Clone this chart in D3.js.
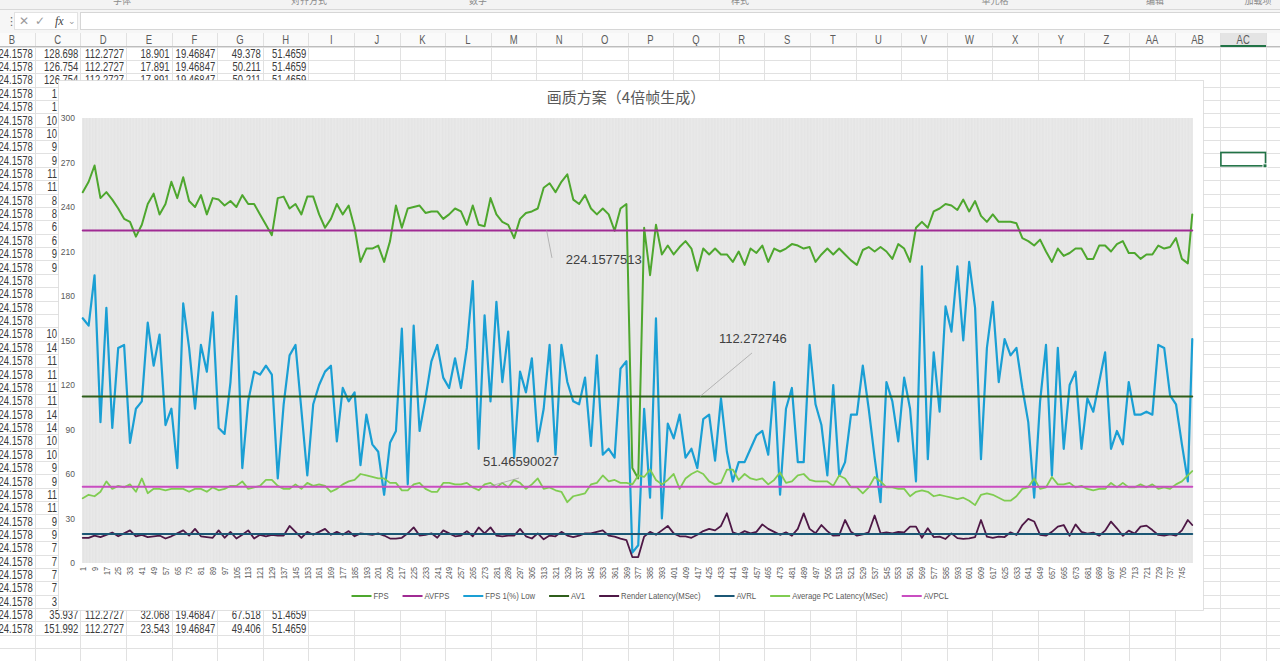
<!DOCTYPE html>
<html>
<head>
<meta charset="utf-8">
<style>
	body { margin: 0; background: #fff; overflow: hidden; }
	svg { display: block; }
	.cell, .colhead { font-family: "Liberation Sans", Arial, sans-serif; font-size: 12.5px; }
	.cell { fill: #3b3b3b; }
	.colhead { fill: #5c5c5c; text-anchor: middle; }
	.axis text, .legend text { font-family: "Liberation Sans", Arial, sans-serif; fill: #595959; }
	.axis text { font-size: 8.5px; }
	.legend text { font-size: 9px; }
	.data-label { font-family: "Liberation Sans", Arial, sans-serif; font-size: 13px; fill: #404040; }
</style>
</head>
<body>
<svg id="sheet" width="1280" height="661"></svg>

<script src="https://d3js.org/d3.v7.min.js"></script>
<script>
	// ---------- chart data (one reading every 4 frames) ----------
	const chartTitle = "画质方案（4倍帧生成）";
	const frameCount = 752;
	const sampleStep = 4;
	const frameTicks = d3.range(1, frameCount, 8);
	const yTicks = [0, 30, 60, 90, 120, 150, 180, 210, 240, 270, 300];
	const seriesNames = ["FPS", "AVFPS", "FPS 1(%) Low", "AV1", "Render Latency(MSec)", "AVRL", "Average PC Latency(MSec)", "AVPCL"];

	const fps = [250,257,268,246,250,245,239,232,230,220,
		228,242,249,235,242,257,246,260,244,240,
		248,235,246,245,241,244,240,248,242,242,
		235,228,221,246,247,239,242,235,247,247,
		235,226,232,242,235,241,226,203,
		212,212,214,203,217,241,226,239,240,241,
		236,237,237,232,235,239,237,228,241,228,
		227,246,235,230,228,219,232,236,237,239,
		253,256,250,257,262,245,242,248,239,235,
		239,235,224,239,242,64,57,
		226,194,228,208,214,208,213,217,212,197,
		212,208,212,208,208,203,210,201,212,209,
		214,203,212,210,212,215,214,212,213,203,
		208,212,208,212,208,204,201,211,213,210,
		213,210,205,215,212,203,226,
		230,226,237,239,242,241,238,245,237,244,
		234,230,235,230,230,230,229,219,217,214,
		218,210,203,212,207,209,212,212,205,205,
		214,214,210,215,217,209,209,205,208,208,
		214,212,213,219,205,202,
		235];

	const fpsLow = [165,160,194,95,172,91,145,147,81,104,
		109,162,133,154,93,104,64,175,145,104,
		147,129,169,91,87,122,180,64,109,129,
		127,133,127,57,107,140,147,103,59,107,
		120,129,133,82,118,109,115,66,
		100,80,75,46,81,89,158,53,160,89,
		111,136,147,125,118,138,118,145,190,77,
		167,109,176,122,156,71,129,115,138,82,
		104,147,73,147,122,109,107,125,79,140,
		73,77,71,131,136,7,12,
		104,44,165,30,94,84,100,71,77,64,
		97,100,69,111,75,55,68,68,77,86,
		89,73,122,46,104,118,68,68,147,107,
		93,59,120,59,68,100,100,133,104,71,
		41,122,109,82,125,104,55,
		200,70,142,102,173,156,200,150,203,172,
		70,145,176,122,151,140,145,118,95,44,
		109,147,59,145,77,120,129,77,111,102,
		122,142,77,89,80,122,100,100,102,100,
		147,145,113,107,80,55,
		151];

	const renderLatency = [17,17,18.5,17.5,19,20.5,18,20,22,18,
		19,17.5,18,18.5,16.5,18,20,22,18.5,23,
		18,17.5,17,22,17,21,16.5,19,22,16.5,
		19,18,19,18.5,18.5,25,21,17,21,19,
		21,23,19,21,19,21.5,18,20,
		19.5,19,20,18.5,16.5,16.5,17,20,24,18.5,
		19,20,17,22,20,18,18.5,21.5,18,24,
		20,24,18.5,18,18.5,18.5,23,18,16.5,20,
		16,18.5,18,21,18.5,17.5,18.5,20,20,21,
		22,18.5,17.8,16.5,15.5,4,4,
		17.8,21,19,22,25,20,18,18,17,19,
		21.5,23,22,25,33.5,20.7,19.3,21.5,20,21,
		26,23,21,19,20.7,18.4,23,33.5,23,20,
		25.6,21.5,18.4,18.6,29,21,18.4,19.3,20.7,32,
		20,20.7,20,21,20.7,24.5,24.5,
		17,23.4,17.5,17.8,16.2,20,16.8,16.2,16.6,17.5,
		29,17.8,17,17.8,17.5,20.7,18.9,25.6,29.7,28,
		18.9,18.4,21,24.5,25.6,18.4,26,21,19.8,20.5,
		18.4,21.8,27.9,23.4,18.4,21.8,19.8,24.5,25.2,22.2,
		18.9,18.4,19.3,18.4,22,29,
		25.6];

	const pcLatency = [43.6,46,45,48,55,50,52,51,53,48,
		57,47,50,50,49,50,50,50,48,50,
		50,48,51,49,50,52,52,55,50,51,
		52,56,56,52,50,50,53,50,54,52,
		53,52,48,50,53,55,56,60,
		59,58,57,57,54,54,49,49,53,54,
		50,48,48,54,54,53,53,54,51,49,
		53,54,51,54,51,56,54,50,53,57,
		50,51,49,48,41,45,46,47,53,54,
		59,55,56,54,54,53,59,
		58,63,56,53,56,60,50,57,60,62,
		60,55,53,54,63,63,56,60,57,56,
		57,53,56,61,54,55,59,60,56,55,
		55,55,52,59,57,51,51,47,51,58,
		55,51,51,50,50,45,48,
		49,48,45,46,45,44,43,44,42,39,
		46,47,46,44,42,42,45,50,51,57,
		50,51,58,53,53,54,51,52,50,49,
		50,50,54,51,54,51,51,53,51,53,
		50,51,50,53,55,59,
		62];

	const avFps = 224.1577513;
	const av1 = 112.272746;
	const avrl = 19.46847;
	const avpcl = 51.46590027;

	// ---------- sheet data visible around the chart ----------
	const columnLetters = ["B","C","D","E","F","G","H","I","J","K","L","M","N","O","P","Q","R","S","T","U","V","W","X","Y","Z","AA","AB","AC"];
	const colBValue = "24.1578";
	const colBRowCount = 44;
	const fullRows = [
		{ row: 0, cells: ["24.1578","128.698","112.2727","18.901","19.46847","49.378","51.4659"] },
		{ row: 1, cells: ["24.1578","126.754","112.2727","17.891","19.46847","50.211","51.4659"] },
		{ row: 2, cells: ["24.1578","126.754","112.2727","17.891","19.46847","50.211","51.4659"] },
		{ row: 42, cells: ["24.1578","35.937","112.2727","32.068","19.46847","67.518","51.4659"] },
		{ row: 43, cells: ["24.1578","151.992","112.2727","23.543","19.46847","49.406","51.4659"] }
	];
	// column C cells that peek out left of the chart (rows 3..41)
	const colCPeek = ["1","1","10","10","9","9","11","11","8","8","6","6","9","9","","","","",
		"10","14","11","11","11","11","14","14","10","10","9","9","11","11","9","9","7","7","7","7","3"];
	const ribbonGroups = ["字体", "对齐方式", "数字", "样式", "单元格", "编辑", "加载项"];

	// ---------- layout ----------
	const W = 1280, H = 661;
	const colW = 45.6, colCenter0 = 12;
	const rowTop = 46.5, rowH = 13.37;
	const box = { left: 58, top: 80, right: 1203, bottom: 610 };
	const plot = { left: 82, top: 118, right: 1193, bottom: 563 };
	const narrow = 0.76;   // the sheet font is a condensed face

	const svg = d3.select("#sheet");

	// ---------- spreadsheet background ----------
	svg.append("rect").attr("width", W).attr("height", H).attr("fill", "#ffffff");

	// ribbon remnant, mostly cut off at the top
	svg.append("rect").attr("width", W).attr("height", 9).attr("fill", "#f3f3f3");
	svg.append("clipPath").attr("id", "ribbon-clip")
		.append("rect").attr("width", W).attr("height", 8);
	const ribbonX = [122, 309, 478, 740, 995, 1155, 1258];
	svg.append("g").attr("clip-path", "url(#ribbon-clip)")
		.selectAll("text").data(ribbonGroups).join("text")
		.attr("x", (d, i) => ribbonX[i]).attr("y", 4)
		.attr("text-anchor", "middle")
		.style("font", "9px 'Noto Sans CJK SC'").attr("fill", "#8a8a8a")
		.text(d => d);
	svg.append("line").attr("x1", 0).attr("x2", W).attr("y1", 9.5).attr("y2", 9.5).attr("stroke", "#d8d8d8");

	// formula bar
	svg.append("rect").attr("y", 10).attr("width", W).attr("height", 23).attr("fill", "#f6f6f6");
	svg.append("rect").attr("x", 80.5).attr("y", 12.5).attr("width", 1200).attr("height", 17)
		.attr("fill", "#fff").attr("stroke", "#d6d6d6");
	svg.append("rect").attr("x", 14.5).attr("y", 12.5).attr("width", 63).attr("height", 17)
		.attr("fill", "#fff").attr("stroke", "#e2e2e2");
	const fbar = svg.append("g").style("font-family", "'DejaVu Sans', sans-serif").attr("fill", "#9a9a9a");
	fbar.append("text").attr("x", 6).attr("y", 25).style("font-size", "11px").attr("fill", "#666").text("⋮");
	fbar.append("text").attr("x", 19).attr("y", 25).style("font-size", "12px").text("✕");
	fbar.append("text").attr("x", 35).attr("y", 25).style("font-size", "12px").text("✓");
	fbar.append("text").attr("x", 55).attr("y", 25).style("font", "italic 12px 'Liberation Serif', serif").attr("fill", "#444").text("fx");
	fbar.append("text").attr("x", 68).attr("y", 24).style("font-size", "9px").text("⌄");

	// column header row
	svg.append("rect").attr("y", 33).attr("width", W).attr("height", 13.5).attr("fill", "#fafafa");
	const acIndex = columnLetters.length - 1;
	svg.append("rect")
		.attr("x", colCenter0 + acIndex * colW - colW / 2).attr("y", 33)
		.attr("width", colW).attr("height", 13.5).attr("fill", "#e4e4e4");
	svg.selectAll(".colhead").data(columnLetters).join("text")
		.attr("class", "colhead")
		.attr("transform", (d, i) => `translate(${colCenter0 + i * colW},44) scale(${narrow},1)`)
		.attr("fill", (d, i) => i === acIndex ? "#217346" : null)
		.text(d => d);

	// grid lines
	const colEdges = d3.range(0, columnLetters.length + 1).map(i => colCenter0 - colW / 2 + i * colW);
	svg.append("g").selectAll("line").data(colEdges).join("line")
		.attr("x1", d => Math.round(d) + 0.5).attr("x2", d => Math.round(d) + 0.5)
		.attr("y1", 33).attr("y2", H).attr("stroke", "#e1e1e1");
	const rowEdges = d3.range(0, 48).map(i => rowTop + i * rowH);
	svg.append("g").selectAll("line").data(rowEdges).join("line")
		.attr("x1", 0).attr("x2", W)
		.attr("y1", d => Math.round(d) + 0.5).attr("y2", d => Math.round(d) + 0.5)
		.attr("stroke", "#e1e1e1");
	svg.append("line").attr("x1", 0).attr("x2", W).attr("y1", 46.5).attr("y2", 46.5).attr("stroke", "#bdbdbd");
	svg.append("line")
		.attr("x1", colCenter0 + acIndex * colW - colW / 2).attr("x2", colCenter0 + acIndex * colW + colW / 2)
		.attr("y1", 46).attr("y2", 46).attr("stroke", "#217346").attr("stroke-width", 2);

	// cell text, right aligned and squeezed like the sheet's condensed font
	const rowMid = r => rowTop + r * rowH + rowH / 2 + 4.5;
	const cellRight = c => colCenter0 + c * colW + colW / 2 - 2;
	const cellText = (sel, xFn, yFn) => sel
		.attr("class", "cell").attr("text-anchor", "end")
		.attr("transform", (d, i) => `translate(${xFn(d, i)},${yFn(d, i)}) scale(${narrow},1)`)
		.text(d => d);
	const cells = svg.append("g");
	cells.selectAll(null).data(d3.range(0, colBRowCount).map(() => colBValue)).join("text")
		.call(cellText, () => cellRight(0), (d, i) => rowMid(i));
	fullRows.forEach(r => {
		cells.selectAll(null).data(r.cells.slice(1)).join("text")
			.call(cellText, (d, i) => cellRight(i + 1), () => rowMid(r.row));
	});
	cells.selectAll(null).data(colCPeek).join("text")
		.call(cellText, () => box.left - 1, (d, i) => rowMid(i + 3));

	// selected cell AC9
	const selX = colCenter0 + acIndex * colW - colW / 2;
	svg.append("rect").attr("x", selX + 0.5).attr("y", rowTop + 8 * rowH - 1)
		.attr("width", colW - 1).attr("height", rowH)
		.attr("fill", "none").attr("stroke", "#217346").attr("stroke-width", 1.6);
	svg.append("rect").attr("x", selX + colW - 3).attr("y", rowTop + 9 * rowH - 3)
		.attr("width", 4).attr("height", 4).attr("fill", "#217346").attr("stroke", "#fff");

	// ---------- chart ----------
	const chart = svg.append("g");
	chart.append("rect")
		.attr("x", box.left + 0.5).attr("y", box.top + 0.5)
		.attr("width", box.right - box.left).attr("height", box.bottom - box.top)
		.attr("fill", "#fff").attr("stroke", "#d9d9d9").attr("stroke-width", 0.8);

	chart.append("text")
		.attr("x", 626).attr("y", 103)
		.attr("text-anchor", "middle")
		.style("font", "15px 'Noto Sans CJK SC', sans-serif")
		.attr("fill", "#595959")
		.text(chartTitle);

	const x = d3.scaleLinear().domain([0.5, frameCount + 0.5]).range([plot.left, plot.right]);
	const y = d3.scaleLinear().domain([0, 300]).range([plot.bottom, plot.top]);

	// plot area: grey fill with one faint stripe per category
	chart.append("rect")
		.attr("x", plot.left).attr("y", plot.top)
		.attr("width", plot.right - plot.left).attr("height", plot.bottom - plot.top)
		.attr("fill", "#e3e3e3");
	chart.append("g").selectAll("line").data(d3.range(1, frameCount + 1)).join("line")
		.attr("x1", d => x(d)).attr("x2", d => x(d))
		.attr("y1", plot.top).attr("y2", plot.bottom)
		.attr("stroke", "#eeeeee").attr("stroke-width", 0.55);

	// axes
	chart.append("g")
		.attr("class", "axis")
		.attr("transform", `translate(${plot.left - 7},0)`)
		.call(d3.axisLeft(y).tickValues(yTicks).tickSize(0).tickPadding(0))
		.call(g => g.select(".domain").remove());

	chart.append("g")
		.attr("class", "axis")
		.attr("transform", `translate(0,${plot.bottom + 4})`)
		.call(d3.axisBottom(x).tickValues(frameTicks).tickSize(0).tickFormat(d3.format("d")))
		.call(g => g.select(".domain").remove())
		.selectAll("text")
		.attr("transform", "rotate(-90) scale(0.85,1)")
		.attr("text-anchor", "end")
		.attr("x", 0).attr("y", 0)
		.attr("dx", 0).attr("dy", "0.32em");

	// series
	const frameOf = (i, n) => i === n - 1 ? frameCount : 1 + i * sampleStep;
	const toPoints = arr => arr.map((v, i) => [frameOf(i, arr.length), v]);
	const line = d3.line().x(d => x(d[0])).y(d => y(d[1]));
	const flat = v => [[1, v], [frameCount, v]];

	const colors = {
		"FPS": "#4ea72e",
		"AVFPS": "#a02b93",
		"FPS 1(%) Low": "#1a9fd4",
		"AV1": "#2f5e1b",
		"Render Latency(MSec)": "#4e1846",
		"AVRL": "#1b5775",
		"Average PC Latency(MSec)": "#80cc52",
		"AVPCL": "#c94dc1"
	};
	const widths = {
		"FPS": 2, "AVFPS": 2, "FPS 1(%) Low": 2.2, "AV1": 2,
		"Render Latency(MSec)": 1.8, "AVRL": 2, "Average PC Latency(MSec)": 1.8, "AVPCL": 2
	};
	const seriesData = [
		toPoints(fps), flat(avFps), toPoints(fpsLow), flat(av1),
		toPoints(renderLatency), flat(avrl), toPoints(pcLatency), flat(avpcl)
	];

	chart.append("g").selectAll("path").data(seriesNames).join("path")
		.attr("fill", "none")
		.attr("stroke", d => colors[d])
		.attr("stroke-width", d => widths[d])
		.attr("stroke-linejoin", "round")
		.attr("stroke-linecap", "round")
		.attr("d", (d, i) => line(seriesData[i]));

	// average value labels with leader lines (anchors in frame / value units)
	const avgLabels = [
		{ text: "224.1577513", at: [328, 201.6], lead: [[315, avFps], [318.6, 205.7]] },
		{ text: "112.272746", at: [431.6, 148.3], lead: [[418.8, av1], [454, 141.6]] },
		{ text: "51.46590027", at: [271.9, 65.4], lead: [[275.3, avpcl], [296.3, 57.3]] }
	];
	const labels = chart.append("g");
	labels.selectAll("line").data(avgLabels).join("line")
		.attr("x1", d => x(d.lead[0][0])).attr("y1", d => y(d.lead[0][1]))
		.attr("x2", d => x(d.lead[1][0])).attr("y2", d => y(d.lead[1][1]))
		.attr("stroke", "#a6a6a6").attr("stroke-width", 0.8);
	labels.selectAll("text").data(avgLabels).join("text")
		.attr("class", "data-label")
		.attr("x", d => x(d.at[0])).attr("y", d => y(d.at[1]))
		.text(d => d.text);

	// legend
	const legendSqueeze = 0.86;
	const legend = chart.append("g").attr("class", "legend");
	const items = legend.selectAll("g").data(seriesNames).join("g");
	items.append("line")
		.attr("x1", 0).attr("x2", 20)
		.attr("stroke", d => colors[d]).attr("stroke-width", 2);
	items.append("text")
		.attr("transform", `translate(22,0) scale(${legendSqueeze},1)`)
		.attr("dy", "0.35em")
		.text(d => d);
	let cursor = 0;
	items.each(function () {
		const w = 22 + legendSqueeze * d3.select(this).select("text").node().getComputedTextLength();
		d3.select(this).attr("transform", `translate(${cursor},0)`);
		cursor += w + 14;
	});
	legend.attr("transform", `translate(${650 - (cursor - 14) / 2},596)`);
</script>
</body>
</html>
